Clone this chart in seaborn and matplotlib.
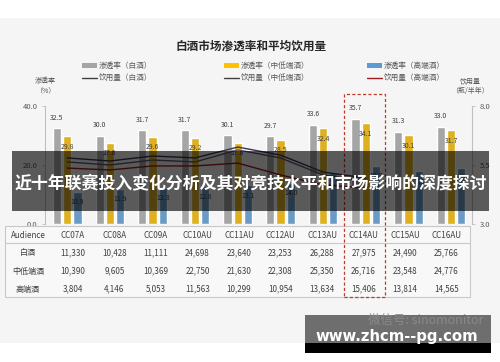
import numpy as np
import pandas as pd
import matplotlib.pyplot as plt
import seaborn as sns
from matplotlib.patches import Rectangle, Patch
from matplotlib.lines import Line2D
from matplotlib.transforms import blended_transform_factory

sns.set_theme(style='white')
plt.rcParams['font.family'] = ['Noto Sans CJK SC', 'DejaVu Sans']

# --- data ---
seasons = ['CC07A', 'CC08A', 'CC09A', 'CC10AU', 'CC11AU',
           'CC12AU', 'CC13AU', 'CC14AU', 'CC15AU', 'CC16AU']
bar_names = ['渗透率（白酒）', '渗透率（中低端酒）', '渗透率（高端酒）']
line_names = ['饮用量（白酒）', '饮用量（中低端酒）', '饮用量（高端酒）']

pen_all = [32.5, 30.0, 31.7, 31.7, 30.1, 29.7, 33.6, 35.7, 31.3, 33.0]
pen_mid = [29.8, 27.6, 29.6, 29.2, 27.6, 28.5, 32.4, 34.1, 30.1, 31.7]
pen_high = [10.9, 11.9, 12.3, 12.8, 13.1, 14.0, 17.5, 19.7, 17.8, 18.9]

# drinking volume (bottles / half year), visible up to CC14AU
vol_all = [5.80, 5.67, 5.88, 5.80, 6.26, 5.92, 5.20, 4.95]
vol_mid = [5.63, 5.50, 5.71, 5.63, 6.14, 5.80, 5.08, 4.82]
vol_high = [5.37, 5.29, 5.46, 5.46, 5.58, 5.08, 4.65, 4.53]

row_names = ['白酒', '中低端酒', '高端酒']
aud_all = [11330, 10428, 11111, 24698, 23640, 23253, 26288, 27975, 24490, 25766]
aud_mid = [10390, 9605, 10369, 22750, 21630, 22308, 25350, 26716, 23548, 24776]
aud_high = [3804, 4146, 5053, 11563, 10299, 10954, 13634, 15406, 13814, 14565]

bar_colors = ['#a5a5a5', '#ffc000', '#5b9bd5']
line_colors = ['#3a3450', '#5c5470', '#9e1c1c']
txt = '#404040'

W, H = 500, 362
fx = lambda px: px / W
fy = lambda py: 1 - py / H

df = pd.DataFrame({
    'season': seasons * 3,
    'series': [n for n in bar_names for _ in seasons],
    'value': pen_all + pen_mid + pen_high,
})

fig = plt.figure(figsize=(5, 3.62), dpi=100, facecolor='white')
fig.add_artist(Rectangle((0, fy(343)), 1, fy(18) - fy(343), transform=fig.transFigure,
                         facecolor='#f5f5f5', edgecolor='none', zorder=-10))

ax = fig.add_axes([fx(45), fy(224), fx(472) - fx(45), fy(106) - fy(224)])
ax.set_facecolor('none')
sns.barplot(data=df, x='season', y='value', hue='series', palette=bar_colors,
            width=0.72, gap=0.2, ax=ax, legend=False)
ax.set_ylim(0, 40)
ax.set_yticks([0, 20, 40])
ax.set_yticklabels(['0.0', '20.0', '40.0'])
ax.set_xticks([])
ax.set_xlabel('')
ax.set_ylabel('')
for s in ['top', 'right', 'bottom']:
    ax.spines[s].set_visible(False)
ax.spines['left'].set_color('#bfbfbf')
ax.spines['left'].set_linewidth(0.8)
ax.tick_params(axis='y', left=True, length=2.5, width=0.6, color='#bfbfbf',
               labelsize=5.5, labelcolor='#595959', pad=3)

# value labels: gray above the bar, yellow/blue just inside the top
for k, cont in enumerate(ax.containers):
    for bar in cont:
        h = bar.get_height()
        cx = bar.get_x() + bar.get_width() / 2
        dy = 7.5 if k == 0 else -7.5
        ax.annotate(f'{h:.1f}', (cx, h), xytext=(0, dy), textcoords='offset points',
                    ha='center', va='center', fontsize=5, color=txt)

ax2 = ax.twinx()
ax2.set_facecolor('none')
for vals, c in zip([vol_all, vol_mid, vol_high], line_colors):
    sns.lineplot(x=np.arange(len(vals)), y=vals, ax=ax2, color=c, linewidth=1.0)
ax2.set_ylim(3, 8)
ax2.set_yticks([3, 5.5, 8])
ax2.set_yticklabels(['3.0', '5.5', '8.0'])
ax2.set_ylabel('')
for s in ['top', 'left', 'bottom']:
    ax2.spines[s].set_visible(False)
ax2.spines['right'].set_color('#bfbfbf')
ax2.spines['right'].set_linewidth(0.8)
ax2.tick_params(axis='y', right=True, length=2.5, width=0.6, color='#bfbfbf',
                labelsize=5.5, labelcolor='#595959', pad=3)
ax.set_xlim(-0.52, 9.49)

# titles and axis names
fig.text(fx(251), fy(46), '白酒市场渗透率和平均饮用量', ha='center', va='center',
         fontsize=8.4, fontweight='bold', color='#262626')
fig.text(fx(45), fy(86), '渗透率\n（%）', ha='center', va='center',
         fontsize=5, color='#595959', linespacing=1.3)
fig.text(fx(470), fy(86), '饮用量\n（瓶/半年）', ha='center', va='center',
         fontsize=5, color='#595959', linespacing=1.3)

# legend, one block per column
for i, x0 in enumerate([82, 224, 367]):
    handles = [Patch(facecolor=bar_colors[i], edgecolor='none'),
               Line2D([], [], color=line_colors[i] if i == 2 else '#404040', lw=1)]
    fig.legend(handles, [bar_names[i], line_names[i]], loc='upper left',
               bbox_to_anchor=(fx(x0), fy(62)), frameon=False, fontsize=5.5,
               handlelength=1.9, handleheight=0.6, handletextpad=0.25,
               labelspacing=0.6, borderpad=0, borderaxespad=0, labelcolor='#595959')

# table of audience sizes
fig.add_artist(Rectangle((fx(5), fy(297)), fx(470) - fx(5), fy(226) - fy(297),
                         transform=fig.transFigure, facecolor='#f8f8f8',
                         edgecolor='#c8c8c8', linewidth=0.8, zorder=1))
fig.add_artist(Line2D([fx(5), fx(470)], [fy(243), fy(243)], transform=fig.transFigure,
                      color='#c8c8c8', linewidth=0.8, zorder=2))
fig.text(fx(28), fy(235), 'Audience', ha='center', va='center', fontsize=5.8, color=txt, zorder=3)
for i, s in enumerate(seasons):
    fig.text(fx(73 + 41.5 * i), fy(235), s, ha='center', va='center',
             fontsize=5.8, color=txt, zorder=3)
for r, (name, vals) in enumerate(zip(row_names, [aud_all, aud_mid, aud_high])):
    yy = fy(253 + 18 * r)
    fig.text(fx(28), yy, name, ha='center', va='center', fontsize=5.8, color=txt, zorder=3)
    for i, v in enumerate(vals):
        fig.text(fx(73 + 41.5 * i), yy, f'{v:,}', ha='center', va='center',
                 fontsize=5.8, color=txt, zorder=3)

# dashed highlight around CC14AU
bt = blended_transform_factory(ax.transData, fig.transFigure)
fig.add_artist(Rectangle((6.5, fy(297)), 0.96, fy(94) - fy(297), transform=bt,
                         facecolor='none', edgecolor='#c0392b', linewidth=0.9,
                         linestyle=(0, (2.5, 1.8)), zorder=4))

# dark banner over the chart
fig.add_artist(Rectangle((fx(12), fy(211)), fx(489) - fx(12), fy(151) - fy(211),
                         transform=fig.transFigure, facecolor='black', alpha=0.63,
                         edgecolor='none', zorder=10))
fig.text(fx(250.5), fy(183), '近十年联赛投入变化分析及其对竞技水平和市场影响的深度探讨',
         ha='center', va='center', fontsize=12.2, fontweight='bold', color='white', zorder=11)

# watermark box
fig.add_artist(Rectangle((fx(305), fy(343)), fx(491) - fx(305), fy(315) - fy(343),
                         transform=fig.transFigure, facecolor='#6e6e6e', edgecolor='none', zorder=10))
fig.add_artist(Rectangle((fx(305), fy(353)), fx(491) - fx(305), fy(343) - fy(353),
                         transform=fig.transFigure, facecolor='black', edgecolor='none', zorder=10))
fig.text(fx(483), fy(320), '微信号: sinomonitor', ha='right', va='center',
         fontsize=9, color='#8a8a8a', zorder=11)
fig.text(fx(397), fy(337), 'www.zhcm--pg.com', ha='center', va='center',
         fontsize=10.7, fontweight='bold', color='white', family='DejaVu Sans', zorder=11)

fig.savefig('out.png', dpi=100)
